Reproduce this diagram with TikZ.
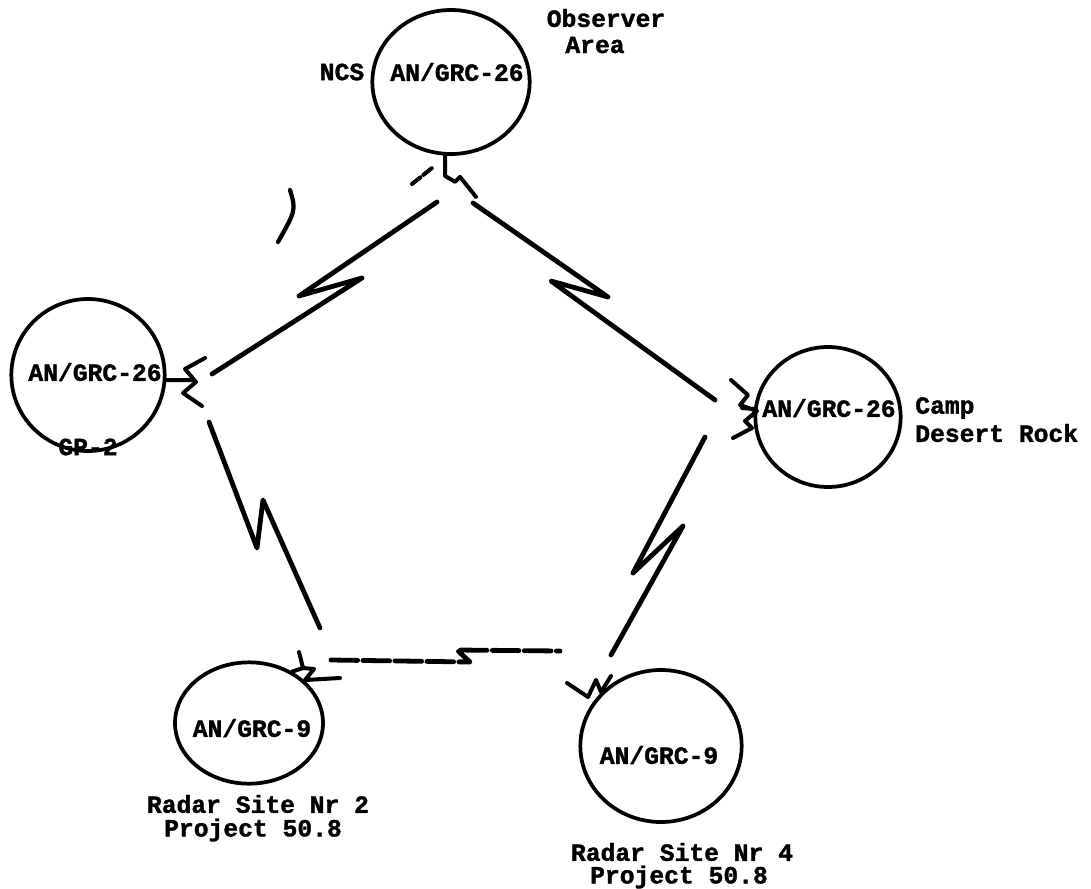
\documentclass[tikz,border=0pt]{standalone}
\usepackage{fontspec}
\setmainfont{Liberation Mono}[BoldFeatures={FakeBold=1.5}]
\usetikzlibrary{shapes.geometric}
\begin{document}
\begin{tikzpicture}[x=0.75pt,y=-0.75pt,
  radio/.style={ellipse, draw, line width=2.8pt, inner sep=0pt},
  lbl/.style={font=\fontsize{18.5}{17}\selectfont\bfseries, inner sep=0pt, align=center},
  link/.style={line width=3.6pt, line cap=round, line join=round},
  ant/.style={line width=3pt, line cap=round, line join=round},
  brk/.style={link, dash pattern=on 20pt off 4pt}]
\useasboundingbox (0,0) rectangle (1091,888);
% stations
\node[radio, minimum width=118pt, minimum height=108pt] (ncs) at (451,82) {};
\node[radio, minimum width=115pt, minimum height=114pt] (gp) at (88,375) {};
\node[radio, minimum width=109pt, minimum height=105pt] (cdr) at (828,417) {};
\node[radio, minimum width=111pt, minimum height=91pt] (rs2) at (249,723) {};
\node[radio, minimum width=121pt, minimum height=114pt] (rs4) at (661,746) {};
% labels
\node[lbl] (ncsname) at (342,72) {NCS};
\node[lbl] (ncsset) at (457,72) {AN/GRC-26};
\node[lbl] (obs1) at (606,18) {Observer};
\node[lbl] (obs2) at (595,45) {Area};
\node[lbl] (gpset) at (95,372) {AN/GRC-26};
\node[lbl] (gpname) at (88,447) {GP-2};
\node[lbl] (cdrset) at (829,408) {AN/GRC-26};
\node[lbl, anchor=west] (cdr1) at (915,408) {Camp};
\node[lbl, anchor=west] (cdr2) at (915,433) {Desert Rock};
\node[lbl] (rs2set) at (252,728) {AN/GRC-9};
\node[lbl] (rs2n1) at (258,804) {Radar Site Nr 2};
\node[lbl] (rs2n2) at (253,830) {Project 50.8};
\node[lbl] (rs4set) at (659,755) {AN/GRC-9};
\node[lbl] (rs4n1) at (682,852) {Radar Site Nr 4};
\node[lbl] (rs4n2) at (679,877) {Project 50.8};
% link NCS - GP-2
\coordinate (a1) at (437,202); \coordinate (a2) at (299,296);
\coordinate (a3) at (362,278); \coordinate (a4) at (212,374);
\draw[link] (a1) -- (a2) -- (a3) -- (a4);
% link NCS - Camp Desert Rock
\coordinate (b1) at (473,203); \coordinate (b2) at (608,297);
\coordinate (b3) at (551,281); \coordinate (b4) at (715,400);
\draw[link] (b1) -- (b2) -- (b3) -- (b4);
% link Camp Desert Rock - Radar Site 4
\coordinate (c1) at (705,437); \coordinate (c2) at (633,573);
\coordinate (c3) at (683,526); \coordinate (c4) at (611,655);
\draw[link] (c1) -- (c2) -- (c3) -- (c4);
% link GP-2 - Radar Site 2
\coordinate (d1) at (209,422); \coordinate (d2) at (257,548);
\coordinate (d3) at (263,500); \coordinate (d4) at (320,628);
\draw[link] (d1) -- (d2) -- (d3) -- (d4);
% link Radar Site 2 - Radar Site 4
\coordinate (e1) at (331,660); \coordinate (e2) at (470,662);
\coordinate (e3) at (457,650); \coordinate (e4) at (560,651);
\draw[brk] (e1) -- (e2) -- (e3) -- (e4);
% antennas
\draw[ant] (ncs.south) ++(-6,0) -- ++(0,20) -- ++(10,6) -- ++(5,-5) -- ++(16,20);
\draw[ant, dash pattern=on 8pt off 3pt] (412,184) -- (432,168);
\draw[ant] (gp.east) ++(0,5) -- ++(25,0) (205,358) -- (185,369) -- (196,382) -- (183,393) -- (202,406);
\draw[ant] (cdr.west) ++(0,-8) -- (742,408) (731,380) -- (748,395) -- (740,405) -- (757,411) -- (745,421) -- (752,428) -- (733,438);
\draw[ant] (rs2.50) -- (303,668) (299,652) -- (303,668) -- (314,669) -- (305,680) -- (340,678);
\draw[ant] (rs4.135) -- (601,690) (567,683) -- (588,697) -- (596,680) -- (601,692) -- (611,676);
% stray pen mark
\draw[line width=3.2pt, line cap=round] (290,190) .. controls (296,210) .. (278,242);
\end{tikzpicture}
\end{document}
